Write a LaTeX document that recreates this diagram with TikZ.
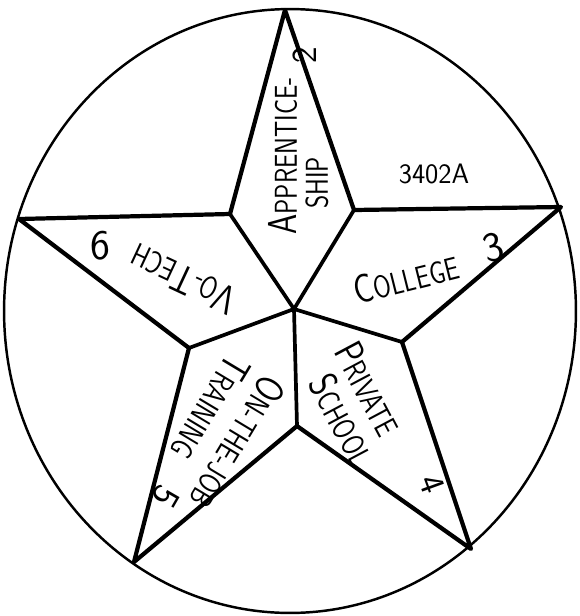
\documentclass[tikz,border=0pt]{standalone}
\usepackage{tikz}

% narrow hand lettering: big first letter, the rest in small capitals
\newcommand\initcap[1]{{\fontsize{23}{23}\selectfont #1}}
\newcommand\narrow[1]{\scalebox{0.8}[1]{#1}}

\begin{document}
\begin{tikzpicture}[
        x=0.02cm, y=-0.02cm,
        ring/.style={line width=1.4pt},
        edge/.style={line width=2.4pt, line join=round, line cap=round},
        spoke/.style={line width=2.1pt, line cap=round},
        lbl/.style={font=\sffamily\fontsize{18}{20}\selectfont, inner sep=0pt},
        num/.style={font=\sffamily\fontsize{24}{24}\selectfont, inner sep=0pt}
    ]
    \useasboundingbox (0,0) rectangle (579,616);

    % Outline
    \draw[ring] (290,311) ellipse [x radius=5.72cm, y radius=6.04cm];

    % Star points
    \coordinate (ptop) at (285,10);
    \coordinate (pright) at (561,207);
    \coordinate (pbr) at (471,549);
    \coordinate (pbl) at (134,562);
    \coordinate (pleft) at (19,219);

    % Inner corners and hub
    \coordinate (iul) at (230,214);
    \coordinate (iur) at (354,210);
    \coordinate (ir) at (402,342);
    \coordinate (ib) at (297,426);
    \coordinate (il) at (189,348);
    \coordinate (hub) at (294,309);

    % Star
    \foreach \p/\a/\b in {ptop/iul/iur, pright/iur/ir, pbr/ir/ib, pbl/ib/il, pleft/il/iul} {
        \draw[edge] (\a) -- (\p) -- (\b);
    }
    \foreach \c in {iul,iur,ir,ib,il} {
        \draw[spoke] (hub) -- (\c);
    }

    % Labels
    \node[lbl, rotate=90] (apprentice) at (283,156) {\narrow{\initcap{A}PPRENTICE-}};
    \node[lbl, rotate=90] (ship) at (317,183) {\narrow{SHIP}};
    \node[num, rotate=90, font=\sffamily\fontsize{20}{20}\selectfont] (n2) at (305,55) {2};
    \node[lbl, font=\sffamily\fontsize{16}{17}\selectfont] (code) at (434,174) {3402A};
    \node[lbl, rotate=14] (college) at (406,278) {\narrow{\initcap{C}OLLEGE}};
    \node[num, rotate=15] (n3) at (493,248) {3};
    \node[lbl, rotate=-62] (private) at (369,389) {\narrow{\initcap{P}RIVATE}};
    \node[lbl, rotate=-62] (school) at (343,420) {\narrow{\initcap{S}CHOOL}};
    \node[num, rotate=-70, font=\sffamily\fontsize{20}{20}\selectfont] (n4) at (432,484) {4};
    \node[lbl, rotate=-121] (onthejob) at (238,443) {\narrow{\initcap{O}N-THE-JOB}};
    \node[lbl, rotate=-121] (training) at (211,408) {\narrow{\initcap{T}RAINING}};
    \node[num, rotate=-120, font=\sffamily\fontsize{22}{22}\selectfont] (n5) at (166,497) {5};
    \node[lbl, rotate=155] (votech) at (183,279) {\narrow{\initcap{V}O-\initcap{T}ECH}};
    \node[num] (n6) at (100,246) {6};
\end{tikzpicture}
\end{document}
